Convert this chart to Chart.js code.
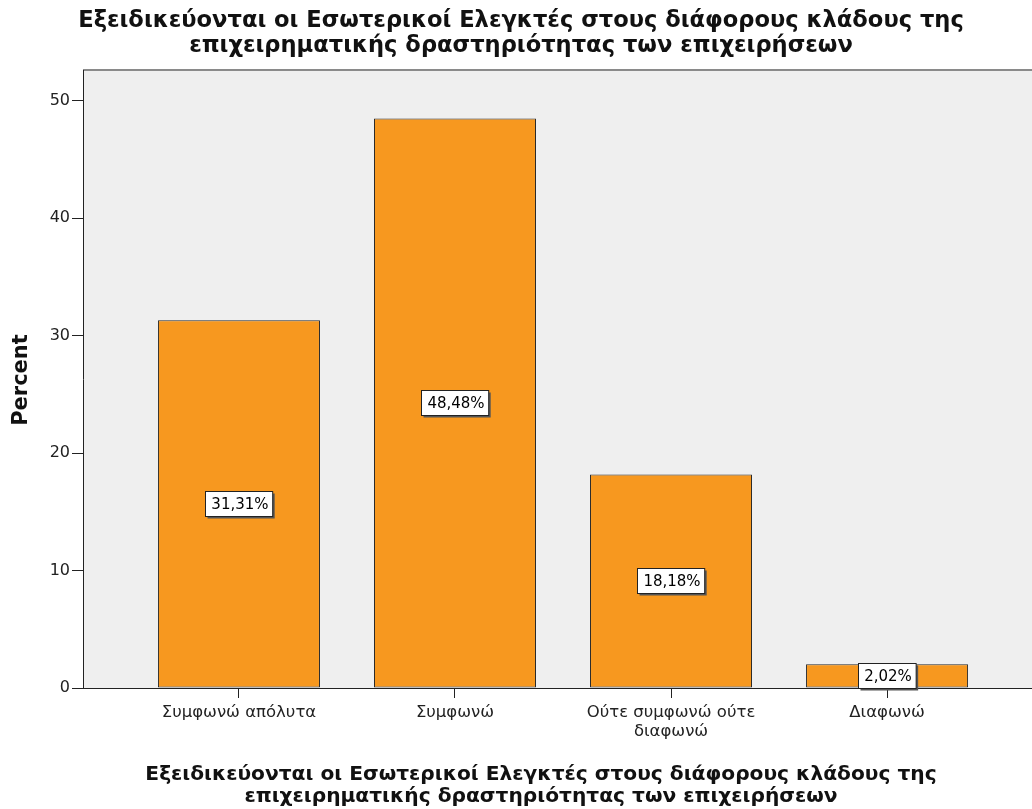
<!DOCTYPE html>
<html>
<head>
<meta charset="utf-8">
<script src="https://cdn.jsdelivr.net/npm/chart.js@4.4.1/dist/chart.umd.min.js"></script>
<style>
  html, body { margin: 0; padding: 0; background: #fff; }
  #wrap { width: 1032px; height: 809px; position: relative; }
</style>
</head>
<body>
<div id="wrap"><canvas id="myChart"></canvas></div>
<script>
// Κατηγορίες απαντήσεων και ποσοστά
const categories = ['Συμφωνώ απόλυτα', 'Συμφωνώ', ['Ούτε συμφωνώ ούτε', 'διαφωνώ'], 'Διαφωνώ'];
const percents = [31.31, 48.48, 18.18, 2.02];
const yTicks = [0, 10, 20, 30, 40, 50];
const chartTitle = ['Εξειδικεύονται οι Εσωτερικοί Ελεγκτές στους διάφορους κλάδους της', 'επιχειρηματικής δραστηριότητας των επιχειρήσεων'];
const xTitle = ['Εξειδικεύονται οι Εσωτερικοί Ελεγκτές στους διάφορους κλάδους της', 'επιχειρηματικής δραστηριότητας των επιχειρήσεων'];
const yTitle = 'Percent';

const fontFamily = '"DejaVu Sans", Verdana, sans-serif';

// φόντο και πλαίσιο της περιοχής σχεδίασης
const plotBackground = {
    id: 'plotBackground',
    beforeDraw(chart) {
        const { ctx, chartArea: a } = chart;
        ctx.save();
        ctx.fillStyle = '#efefef';
        ctx.fillRect(a.left, a.top, a.right - a.left, a.bottom - a.top);
        ctx.strokeStyle = '#8a8a8a';
        ctx.lineWidth = 2;
        ctx.beginPath();
        ctx.moveTo(a.left, a.top);
        ctx.lineTo(a.right, a.top);
        ctx.stroke();
        ctx.restore();
    }
};

// ετικέτες τιμών μέσα σε λευκό πλαίσιο
const valueBoxes = {
    id: 'valueBoxes',
    afterDatasetsDraw(chart) {
        const { ctx } = chart;
        const meta = chart.getDatasetMeta(0);
        ctx.save();
        ctx.font = '15px ' + fontFamily;
        ctx.textAlign = 'center';
        ctx.textBaseline = 'middle';
        meta.data.forEach((bar, i) => {
            const text = percents[i].toFixed(2).replace('.', ',') + '%';
            const cx = bar.x;
            const cy = (bar.y + bar.base) / 2;
            const w = ctx.measureText(text).width + 10;
            const h = 25;
            const x = Math.round(cx - w / 2) + 0.5;
            const y = Math.round(cy - h / 2) + 0.5;
            ctx.fillStyle = '#555';
            ctx.fillRect(x + 2, y + 2, w, h);
            ctx.fillStyle = '#fff';
            ctx.fillRect(x, y, w, h);
            ctx.strokeStyle = '#222';
            ctx.lineWidth = 1;
            ctx.strokeRect(x, y, w, h);
            ctx.fillStyle = '#000';
            ctx.fillText(text, cx + 1, cy + 1);
        });
        ctx.restore();
    }
};

// τίτλοι διαγράμματος και αξόνων
const titles = {
    id: 'titles',
    afterDraw(chart) {
        const { ctx } = chart;
        ctx.save();
        ctx.fillStyle = '#111';
        ctx.textAlign = 'center';
        ctx.textBaseline = 'middle';
        ctx.font = 'bold 22.6px ' + fontFamily;
        ctx.fillText(chartTitle[0], 521, 21);
        ctx.fillText(chartTitle[1], 521, 46);
        ctx.font = 'bold 20.2px ' + fontFamily;
        ctx.fillText(xTitle[0], 541, 775);
        ctx.fillText(xTitle[1], 541, 797);
        ctx.translate(22, 380);
        ctx.rotate(-Math.PI / 2);
        ctx.font = 'bold 21px ' + fontFamily;
        ctx.fillText(yTitle, 0, 0);
        ctx.restore();
    }
};

const ctx = document.getElementById('myChart').getContext('2d');
const myChart = new Chart(ctx, {
    type: 'bar',
    data: {
        datasets: [{
            label: 'Percent',
            data: percents.map((v, i) => ({ x: i, y: v })),
            backgroundColor: '#f7981f',
            borderColor: '#2a2a2a',
            borderWidth: 1,
            borderSkipped: false,
            categoryPercentage: 1,
            barPercentage: 0.75
        }]
    },
    options: {
        responsive: true,
        maintainAspectRatio: false,
        animation: false,
        layout: { padding: { top: 70, left: 0, right: 0, bottom: 0 } },
        plugins: {
            legend: { display: false },
            tooltip: { enabled: false }
        },
        scales: {
            x: {
                type: 'linear',
                offset: false,
                min: -0.722,
                max: 3.671,
                afterBuildTicks: scale => { scale.ticks = categories.map((c, i) => ({ value: i })); },
                afterFit: scale => { scale.height = 121; },
                ticks: {
                    autoSkip: false,
                    maxRotation: 0,
                    padding: 5,
                    color: '#222',
                    font: { family: fontFamily, size: 16.5, lineHeight: 1.15 },
                    callback: value => categories[value]
                },
                grid: {
                    offset: false,
                    drawOnChartArea: false,
                    drawTicks: true,
                    tickLength: 10,
                    tickColor: '#222'
                },
                border: { color: '#222', width: 1 }
            },
            y: {
                min: 0,
                max: 52.6,
                afterBuildTicks: scale => { scale.ticks = yTicks.map(v => ({ value: v })); },
                afterFit: scale => { scale.width = 83; },
                ticks: {
                    padding: 2,
                    color: '#222',
                    font: { family: fontFamily, size: 16 }
                },
                grid: {
                    drawOnChartArea: false,
                    drawTicks: true,
                    tickLength: 11,
                    tickColor: '#222'
                },
                border: { color: '#222', width: 1 }
            }
        }
    },
    plugins: [plotBackground, valueBoxes, titles]
});
</script>
</body>
</html>
